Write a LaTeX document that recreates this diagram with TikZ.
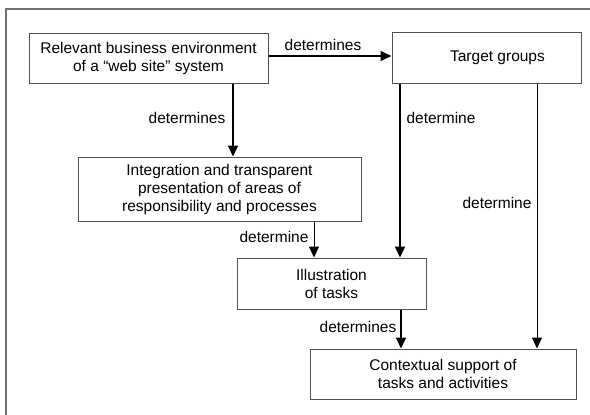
\documentclass[tikz,border=0pt]{standalone}
\usepackage{fontspec}
\setmainfont{Liberation Sans}
\usetikzlibrary{arrows.meta}
\definecolor{boxgray}{HTML}{505050}
\definecolor{framegray}{HTML}{707070}
\begin{document}
\begin{tikzpicture}[x=1pt,y=-1pt,
  font=\fontsize{15.5}{18}\selectfont,
  box/.style={draw=boxgray, line width=1pt, rectangle, align=center, inner sep=0pt},
  thickarr/.style={line width=1.8pt, -{Triangle[length=11pt,width=10pt]}},
  thinarr/.style={line width=1pt, -{Triangle[length=11pt,width=10pt]}},
  lbl/.style={inner sep=0pt, anchor=center}]
\useasboundingbox (0,0) rectangle (590,415);
\draw[framegray, line width=1.2pt] (6,430) -- (6,9) -- (600,9);
\node[box, minimum width=239pt, minimum height=50pt] (env) at (148.5,58) {Relevant business environment\\of a “web site” system};
\node[box, minimum width=189pt, minimum height=51pt] (tg) at (486.5,57.5) {\hspace*{22pt}Target groups};
\node[box, minimum width=283pt, minimum height=64pt] (integ) at (219.5,189) {Integration and transparent\\presentation of areas of\\responsibility and processes};
\node[box, minimum width=189pt, minimum height=51pt] (illu) at (331.5,283.5) {Illustration\\of tasks};
\node[box, minimum width=266pt, minimum height=50pt] (ctx) at (443,374) {Contextual support of\\tasks and activities};
% connectors
\draw[thickarr] (env.east |- 0,56) -- (tg.west |- 0,56);
\draw[thickarr] (env.south -| 233,0) -- (integ.north -| 233,0);
\draw[thinarr] (integ.south -| 314,0) -- (illu.north -| 314,0);
\draw[thickarr] (tg.south -| 400,0) -- (illu.north -| 400,0);
\draw[thinarr] (tg.south -| 537,0) -- (ctx.north -| 537,0);
\draw[thickarr] (illu.south -| 401,0) -- (ctx.north -| 401,0);
% labels
\node[lbl] (l1) at (323,45) {determines};
\node[lbl] (l2) at (187,118) {determines};
\node[lbl] (l3) at (274,237) {determine};
\node[lbl] (l4) at (441,118) {determine};
\node[lbl] (l5) at (497,203) {determine};
\node[lbl] (l6) at (358,327) {determines};
\end{tikzpicture}
\end{document}
